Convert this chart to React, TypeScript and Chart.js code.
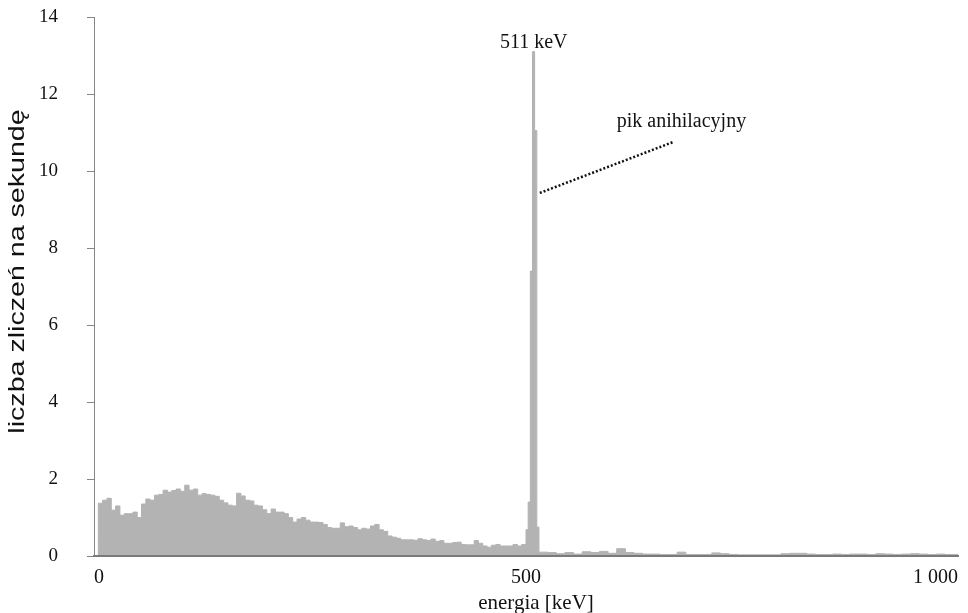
import React, { useEffect, useRef } from 'react';
import { Chart, registerables } from 'chart.js';

Chart.register(...registerables);

// ---- data (counts per second) ----
// continuum 0–500 keV, 5 keV bins (bin start = index * continuumStep)
const continuumStep = 5;
const continuumCounts = [
  0, 1.37, 1.45, 1.5, 1.19, 1.3, 1.06, 1.1, 1.1, 1.14,
  1.0, 1.35, 1.48, 1.45, 1.58, 1.6, 1.71, 1.66, 1.7, 1.74,
  1.68, 1.84, 1.71, 1.74, 1.58, 1.62, 1.6, 1.58, 1.55, 1.45,
  1.38, 1.32, 1.3, 1.63, 1.56, 1.45, 1.43, 1.32, 1.3, 1.2,
  1.1, 1.22, 1.14, 1.14, 1.1, 1.0, 0.88, 0.96, 1.0, 0.93,
  0.88, 0.88, 0.87, 0.82, 0.74, 0.72, 0.72, 0.86, 0.76, 0.78,
  0.74, 0.68, 0.72, 0.7, 0.78, 0.82, 0.68, 0.64, 0.52, 0.49,
  0.46, 0.42, 0.42, 0.42, 0.41, 0.45, 0.42, 0.4, 0.44, 0.38,
  0.4, 0.33, 0.33, 0.35, 0.36, 0.3, 0.29, 0.29, 0.4, 0.33,
  0.26, 0.23, 0.28, 0.3, 0.26, 0.26, 0.26, 0.3, 0.26, 0.3,
];
// annihilation peak, fine bins
const peakEnergies = [500, 502.5, 505, 507.5, 510, 512.5];
const peakCounts = [0.68, 1.4, 7.4, 13.1, 11.05, 0.75];
// tail 515–1000 keV, 10 keV bins
const tailStart = 515;
const tailStep = 10;
const tailCounts = [
  0.1, 0.09, 0.06, 0.09, 0.05, 0.11, 0.09, 0.12, 0.07, 0.19,
  0.09, 0.07, 0.05, 0.05, 0.04, 0.04, 0.1, 0.04, 0.04, 0.04,
  0.08, 0.06, 0.04, 0.03, 0.03, 0.03, 0.03, 0.03, 0.06, 0.07,
  0.07, 0.05, 0.04, 0.04, 0.05, 0.04, 0.05, 0.05, 0.04, 0.06,
  0.05, 0.04, 0.05, 0.06, 0.05, 0.04, 0.05, 0.04, 0.04,
];
const spectrumEnd = 1000;

// axes
const xMin = 0;
const xMax = 1000;
const xTickStep = 500;
const yMin = 0;
const yMax = 14;
const yTickStep = 2;

// texts
const xTitle = 'energia [keV]';
const yTitle = 'liczba zliczeń na sekundę';
const peakLabel = '511 keV';
const peakLabelAt = [509, 13.32];
const pointerLabel = 'pik anihilacyjny';
const pointerLabelAt = [605, 11.27];
const pointerFrom = [516, 9.43];
const pointerTo = [670, 10.75];

const fillGray = '#b3b3b3';
const textColor = '#111111';

function formatThousands(v: number): string {
  return String(v).replace(/\B(?=(\d{3})+(?!\d))/g, ' ');
}

const annotationPlugin = {
  id: 'spectrumAnnotations',
  afterDraw(chart: any) {
    const { ctx, scales, chartArea } = chart;
    const xs = scales.x;
    const ys = scales.y;
    ctx.save();
    ctx.fillStyle = textColor;
    ctx.textBaseline = 'middle';

    ctx.font = '20px "Liberation Serif", serif';
    ctx.textAlign = 'center';
    ctx.fillText(peakLabel, xs.getPixelForValue(peakLabelAt[0]), ys.getPixelForValue(peakLabelAt[1]));

    ctx.textAlign = 'left';
    ctx.fillText(pointerLabel, xs.getPixelForValue(pointerLabelAt[0]), ys.getPixelForValue(pointerLabelAt[1]));

    ctx.strokeStyle = '#111';
    ctx.lineWidth = 2.5;
    ctx.setLineDash([2, 2]);
    ctx.beginPath();
    ctx.moveTo(xs.getPixelForValue(pointerFrom[0]), ys.getPixelForValue(pointerFrom[1]));
    ctx.lineTo(xs.getPixelForValue(pointerTo[0]), ys.getPixelForValue(pointerTo[1]));
    ctx.stroke();
    ctx.setLineDash([]);

    // x axis title
    ctx.font = '21px "Liberation Serif", serif';
    ctx.textAlign = 'center';
    ctx.fillText(xTitle, (chartArea.left + chartArea.right) / 2 + 10, 603);

    // y axis title (rotated)
    ctx.translate(18, (chartArea.top + chartArea.bottom) / 2 - 15);
    ctx.rotate(-Math.PI / 2);
    ctx.scale(1.3, 1);
    ctx.font = '22px "Liberation Sans", sans-serif';
    ctx.textAlign = 'center';
    ctx.fillText(yTitle, 0, 0);
    ctx.restore();
  },
};

export default function App() {
  const canvasRef = useRef<HTMLCanvasElement | null>(null);

  useEffect(() => {
    const canvas = canvasRef.current;
    if (!canvas) return;

    const points = [
      ...continuumCounts.map((y, i) => ({ x: i * continuumStep, y })),
      ...peakEnergies.map((x, i) => ({ x, y: peakCounts[i] })),
      ...tailCounts.map((y, i) => ({ x: tailStart + i * tailStep, y })),
      { x: spectrumEnd, y: 0 },
    ];

    const chart = new Chart(canvas, {
      type: 'line',
      data: {
        datasets: [
          {
            data: points,
            stepped: 'before',
            fill: 'origin',
            backgroundColor: fillGray,
            borderColor: fillGray,
            borderWidth: 1,
            pointRadius: 0,
            tension: 0,
          },
        ],
      },
      options: {
        responsive: false,
        animation: false,
        devicePixelRatio: 1,
        layout: { padding: { top: 17, right: 10, bottom: 0, left: 0 } },
        plugins: {
          legend: { display: false },
          tooltip: { enabled: false },
          title: { display: false },
        },
        scales: {
          x: {
            type: 'linear',
            min: xMin,
            max: xMax,
            ticks: {
              stepSize: xTickStep,
              align: 'inner',
              padding: 10,
              maxRotation: 0,
              autoSkip: false,
              color: textColor,
              font: { family: '"Liberation Serif", serif', size: 20 },
              callback: (v: any) => formatThousands(Number(v)),
            },
            grid: { display: false, drawTicks: false },
            border: { display: true, color: '#7a7a7a', width: 2, z: 1 },
            afterFit: (s: any) => {
              s.height = 57;
              s.paddingLeft = 0;
              s.paddingRight = 0;
            },
          },
          y: {
            type: 'linear',
            min: yMin,
            max: yMax,
            ticks: {
              stepSize: yTickStep,
              padding: 29,
              color: textColor,
              font: { family: '"Liberation Serif", serif', size: 19 },
            },
            grid: { drawOnChartArea: false, tickLength: 7, color: '#868686', lineWidth: 1 },
            border: { display: true, color: '#868686', width: 1 },
            afterFit: (s: any) => {
              s.width = 94;
              s.paddingTop = 0;
              s.paddingBottom = 0;
            },
          },
        },
      } as any,
      plugins: [annotationPlugin],
    });

    return () => chart.destroy();
  }, []);

  return (
    <div style={{ position: 'fixed', left: 0, top: 0, width: 968, height: 613, background: '#fff' }}>
      <canvas ref={canvasRef} width={968} height={613} />
    </div>
  );
}
